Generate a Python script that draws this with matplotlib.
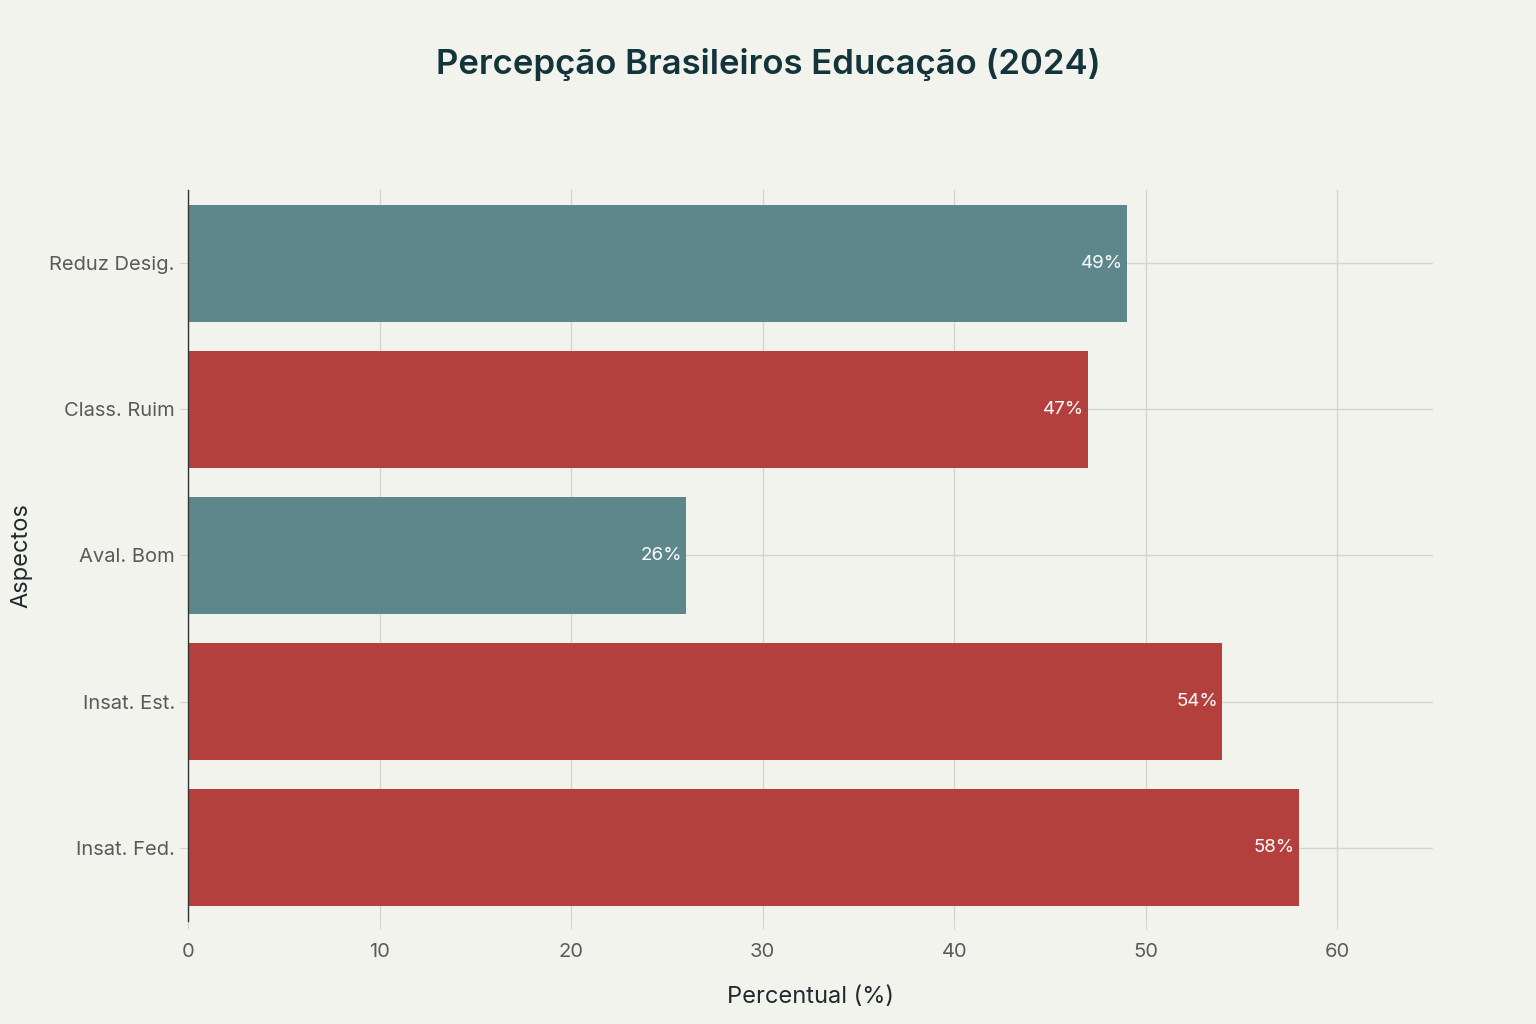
import matplotlib
matplotlib.use("Agg")
from matplotlib import pyplot as plt

# data, bottom to top
aspectos = ["Insat. Fed.", "Insat. Est.", "Aval. Bom", "Class. Ruim", "Reduz Desig."]
valores = [58, 54, 26, 47, 49]
cores = ["#B4403D", "#B4403D", "#5E878C", "#B4403D", "#5E878C"]

bg = "#F3F3EE"
plt.rcParams['font.family'] = ['Inter', 'DejaVu Sans']

fig = plt.figure(figsize=(15.36, 10.24), dpi=100, facecolor=bg)
ax = fig.add_axes([0.1224, 0.1006, 0.8106, 0.7139])
ax.set_facecolor(bg)

ypos = list(range(len(aspectos)))
ax.barh(ypos, valores, height=0.8, color=cores, zorder=2)

for y, v in zip(ypos, valores):
    ax.text(v - 0.2, y, f"{v}%", ha="right", va="center", color="white", fontsize=13.5, zorder=3)

ax.set_xlim(0, 65)
ax.set_ylim(-0.5, 4.5)
ax.set_yticks(ypos)
ax.set_yticklabels(aspectos)
ax.set_xticks(range(0, 61, 10))
ax.grid(True, color="#D5D5D0", linewidth=1, zorder=0)
ax.tick_params(axis="both", colors="#D5D5D0", labelcolor="#5A5A5A", labelsize=14.5, length=6)
ax.tick_params(axis="x", pad=10)
for s in ["top", "right", "bottom"]:
    ax.spines[s].set_visible(False)
ax.spines["left"].set_color("#333333")
ax.spines["left"].set_linewidth(1)

ax.set_xlabel("Percentual (%)", fontsize=17, color="#1F2A2E", labelpad=18)
ax.set_ylabel("Aspectos", fontsize=17, color="#1F2A2E", labelpad=12)
fig.text(0.5, 0.937, "Percepção Brasileiros Educação (2024)", ha="center", va="center",
         fontsize=25, fontweight="semibold", color="#13343B")

fig.savefig("out.png", dpi=100, facecolor=bg)
